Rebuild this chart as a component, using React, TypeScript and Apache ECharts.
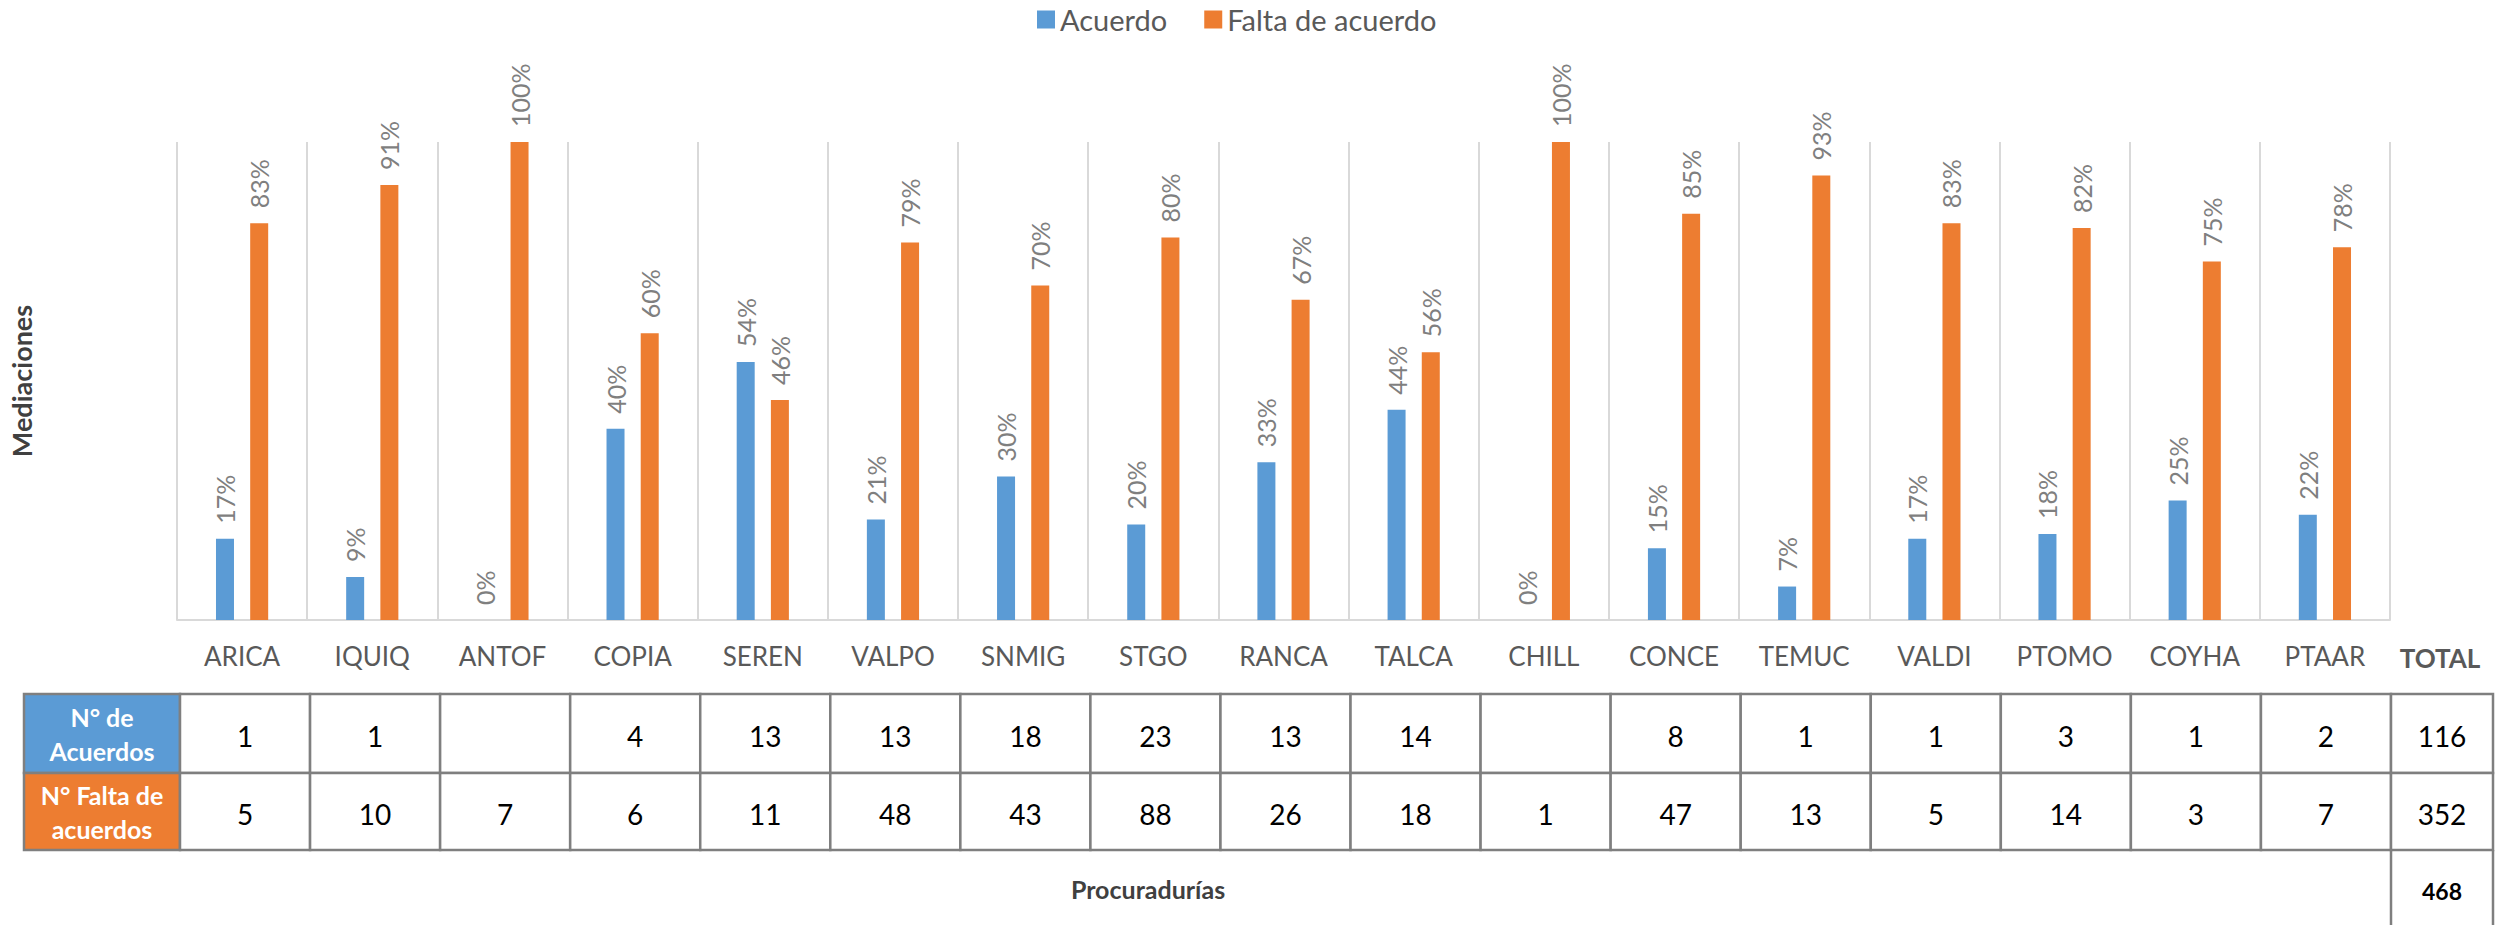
import { useEffect, useRef } from "react";
import * as echarts from "echarts";

const categories = ["ARICA", "IQUIQ", "ANTOF", "COPIA", "SEREN", "VALPO", "SNMIG", "STGO", "RANCA", "TALCA", "CHILL", "CONCE", "TEMUC", "VALDI", "PTOMO", "COYHA", "PTAAR"];
const seriesNames = ["Acuerdo", "Falta de acuerdo"];
const acuerdoPct = [17, 9, 0, 40, 54, 21, 30, 20, 33, 44, 0, 15, 7, 17, 18, 25, 22];
const faltaPct = [83, 91, 100, 60, 46, 79, 70, 80, 67, 56, 100, 85, 93, 83, 82, 75, 78];
const acuerdosCount = ["1", "1", "", "4", "13", "13", "18", "23", "13", "14", "", "8", "1", "1", "3", "1", "2"];
const faltaCount = ["5", "10", "7", "6", "11", "48", "43", "88", "26", "18", "1", "47", "13", "5", "14", "3", "7"];
const totalLabel = "TOTAL";
const totalAcuerdos = "116";
const totalFalta = "352";
const grandTotal = "468";
const rowHeaders = ["N° de\nAcuerdos", "N° Falta de\nacuerdos"];
const yTitle = "Mediaciones";
const xTitle = "Procuradurías";

const BLUE = "#5B9BD5";
const ORANGE = "#ED7D31";
const FONT = "Lato, 'Open Sans', sans-serif";

function txt(x: number, y: number, text: string, size: number, color: string, weight = "normal", lineHeight?: number) {
  return {
    type: "text",
    x,
    y,
    style: {
      text,
      fill: color,
      font: `${weight} ${size}px ${FONT}`,
      fontSize: size,
      fontWeight: weight,
      fontFamily: FONT,
      lineHeight: lineHeight,
      align: "center",
      verticalAlign: "middle",
      textAlign: "center",
      textVerticalAlign: "middle",
    },
    z: 10,
  };
}

export default function App() {
  const ref = useRef<HTMLDivElement>(null);
  useEffect(() => {
    document.body.style.margin = "0";
    document.body.style.overflow = "hidden";
    const chart = echarts.init(ref.current!, undefined, { renderer: "svg" });

    const gridLeft = 172;
    const gridRight = 2390;
    const gridTop = 142;
    const gridBottom = 620;

    // table layout
    const hx0 = 24, hx1 = 180, tx1 = 2391, totX1 = 2493;
    const ry0 = 694, ry1 = 773, ry2 = 850, ry3 = 925;
    const n = categories.length;
    const cw = (tx1 - hx1) / n;
    const border = "#7F7F7F";
    const lw = 2.5;

    const g: any[] = [];
    g.push({ type: "rect", shape: { x: hx0, y: ry0, width: hx1 - hx0, height: ry1 - ry0 }, style: { fill: BLUE, stroke: border, lineWidth: lw }, z: 5 });
    g.push({ type: "rect", shape: { x: hx0, y: ry1, width: hx1 - hx0, height: ry2 - ry1 }, style: { fill: ORANGE, stroke: border, lineWidth: lw }, z: 5 });
    g.push(txt((hx0 + hx1) / 2, (ry0 + ry1) / 2, rowHeaders[0], 25, "#FFFFFF", "bold", 34));
    g.push(txt((hx0 + hx1) / 2, (ry1 + ry2) / 2, rowHeaders[1], 25, "#FFFFFF", "bold", 34));
    for (let i = 0; i < n; i++) {
      const x = hx1 + i * cw;
      g.push({ type: "rect", shape: { x, y: ry0, width: cw, height: ry1 - ry0 }, style: { fill: "#fff", stroke: border, lineWidth: lw }, z: 5 });
      g.push({ type: "rect", shape: { x, y: ry1, width: cw, height: ry2 - ry1 }, style: { fill: "#fff", stroke: border, lineWidth: lw }, z: 5 });
      if (acuerdosCount[i]) g.push(txt(x + cw / 2, (ry0 + ry1) / 2 + 2, acuerdosCount[i], 28, "#000000"));
      if (faltaCount[i]) g.push(txt(x + cw / 2, (ry1 + ry2) / 2 + 2, faltaCount[i], 28, "#000000"));
    }
    g.push({ type: "rect", shape: { x: tx1, y: ry0, width: totX1 - tx1, height: ry1 - ry0 }, style: { fill: "#fff", stroke: border, lineWidth: lw }, z: 5 });
    g.push({ type: "rect", shape: { x: tx1, y: ry1, width: totX1 - tx1, height: ry2 - ry1 }, style: { fill: "#fff", stroke: border, lineWidth: lw }, z: 5 });
    g.push({ type: "line", shape: { x1: tx1, y1: ry2, x2: tx1, y2: ry3 }, style: { stroke: border, lineWidth: lw }, z: 5 });
    g.push({ type: "line", shape: { x1: totX1, y1: ry2, x2: totX1, y2: ry3 }, style: { stroke: border, lineWidth: lw }, z: 5 });
    g.push(txt((tx1 + totX1) / 2, (ry0 + ry1) / 2 + 2, totalAcuerdos, 28, "#000000"));
    g.push(txt((tx1 + totX1) / 2, (ry1 + ry2) / 2 + 2, totalFalta, 28, "#000000"));
    g.push(txt((tx1 + totX1) / 2, 891, grandTotal, 23, "#000000", "bold"));
    g.push(txt(1148, 889, xTitle, 25, "#404040", "bold"));
    g.push(txt(2440, 658, totalLabel, 26, "#595959", "bold"));

    const labelCfg = {
      show: true,
      position: "top",
      rotate: 90,
      align: "left",
      verticalAlign: "middle",
      distance: 15,
      fontSize: 25,
      fontFamily: FONT,
      color: "#7F7F7F",
      formatter: "{c}%",
    };

    chart.setOption({
      animation: false,
      textStyle: { fontFamily: FONT },
      color: [BLUE, ORANGE],
      legend: {
        top: 0,
        left: 1032,
        itemWidth: 18,
        itemHeight: 18,
        itemGap: 37,
        icon: "rect",
        textStyle: { fontSize: 29, color: "#595959", fontFamily: FONT },
        data: seriesNames,
      },
      grid: {
        left: gridLeft,
        right: 2501 - gridRight,
        top: gridTop,
        bottom: 925 - gridBottom,
      },
      xAxis: {
        type: "category",
        data: categories,
        axisLine: { lineStyle: { color: "#D9D9D9", width: 2 } },
        axisTick: { show: false },
        splitLine: { show: true, lineStyle: { color: "#D9D9D9", width: 2 } },
        axisLabel: { fontSize: 26, color: "#595959", margin: 23, fontFamily: FONT, interval: 0 },
      },
      yAxis: {
        type: "value",
        min: 0,
        max: 100,
        axisLabel: { show: false },
        axisLine: { show: false },
        axisTick: { show: false },
        splitLine: { show: false },
        name: yTitle,
        nameLocation: "middle",
        nameRotate: 90,
        nameGap: 142,
        nameTextStyle: { fontSize: 27, fontWeight: "bold", color: "#404040", fontFamily: FONT },
      },
      series: [
        { name: seriesNames[0], type: "bar", data: acuerdoPct, barWidth: 18, barGap: "90%", label: labelCfg },
        { name: seriesNames[1], type: "bar", data: faltaPct, barWidth: 18, barGap: "90%", label: labelCfg },
      ],
      graphic: { elements: g },
    });
    return () => chart.dispose();
  }, []);
  return <div ref={ref} style={{ width: 2501, height: 925 }} />;
}
